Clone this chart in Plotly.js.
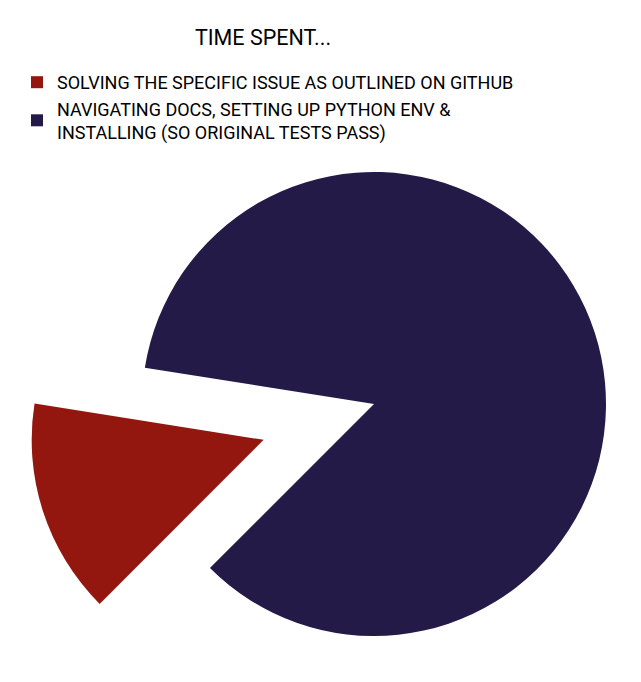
<!DOCTYPE html>
<html>
<head>
<meta charset="utf-8">
<script src="https://cdn.plot.ly/plotly-3.0.1.min.js"></script>
<style>
  html, body { margin: 0; padding: 0; overflow: hidden; background: #fff; }
  #chart { width: 722px; height: 752px; }
</style>
</head>
<body>
<div id="chart"></div>
<script>
const chartTitle = "TIME SPENT...";
const categories = [
  "SOLVING THE SPECIFIC ISSUE AS OUTLINED ON GITHUB",
  "NAVIGATING DOCS, SETTING UP PYTHON ENV &<br>INSTALLING (SO ORIGINAL TESTS PASS)"
];
const shares = [15, 85];
const sliceColors = ["#93160f", "#231a48"];
const slicePull = [0.5, 0];

const W = 722, H = 752;

const data = [{
  type: "pie",
  labels: categories,
  values: shares,
  sort: false,
  direction: "clockwise",
  rotation: 225,
  pull: slicePull,
  marker: { colors: sliceColors, line: { width: 0 } },
  textinfo: "none",
  hoverinfo: "label+percent",
  domain: { x: [0, 1], y: [0, 1] }
}];

const layout = {
  width: W,
  height: H,
  margin: { l: 26, r: 0, t: 56, b: 0, autoexpand: false },
  paper_bgcolor: "#ffffff",
  font: { family: "Roboto, 'DejaVu Sans', sans-serif", color: "#000000", size: 18 },
  title: {
    text: chartTitle,
    xref: "container", yref: "container",
    x: 263 / W, xanchor: "center",
    y: 1 - 37 / H, yanchor: "middle",
    font: { family: "Roboto, 'DejaVu Sans', sans-serif", size: 21.5, color: "#000000" }
  },
  showlegend: true,
  legend: {
    xref: "container", yref: "container",
    x: 17 / W, xanchor: "left",
    y: 1 - 64 / H, yanchor: "top",
    bgcolor: "rgba(0,0,0,0)",
    font: { family: "Roboto, 'DejaVu Sans', sans-serif", size: 18, color: "#000000" },
    traceorder: "normal"
  }
};

Plotly.newPlot("chart", data, layout, { displayModeBar: false, staticPlot: true });
</script>
</body>
</html>
